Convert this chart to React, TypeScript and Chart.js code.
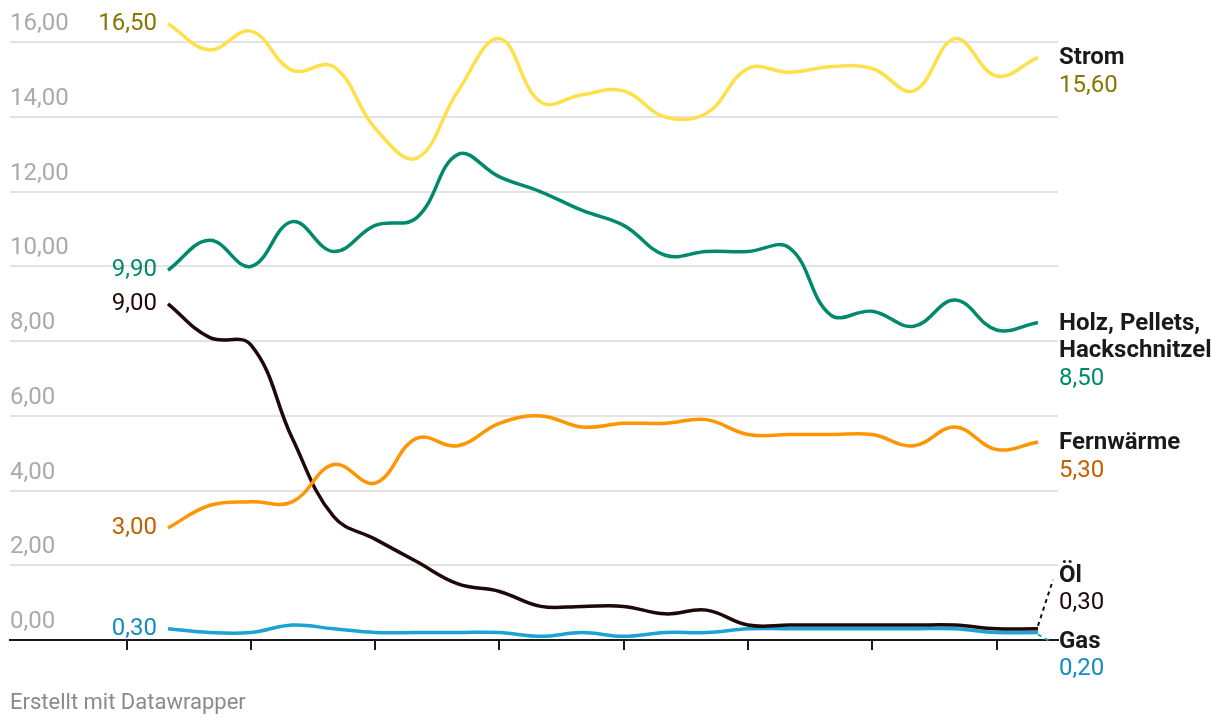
import { useEffect, useRef } from 'react';
import { Chart, registerables } from 'chart.js';

Chart.register(...registerables);

// x positions of the data points (periods, evenly spaced)
const periods = [0, 1, 2, 3, 4, 5, 6, 7, 8, 9, 10, 11, 12, 13, 14, 15, 16, 17, 18, 19, 20, 21];
// positions of the x-axis tick marks
const xTickPositions = [-1, 2, 5, 8, 11, 14, 17, 20];
// y-axis tick values
const yTickValues = [0, 2, 4, 6, 8, 10, 12, 14, 16];

const strom = [16.5, 15.8, 16.3, 15.25, 15.35, 13.7, 12.9, 14.7, 16.1, 14.4, 14.6, 14.7, 14.0, 14.1, 15.3, 15.2, 15.35, 15.3, 14.7, 16.1, 15.1, 15.6];
const holz = [9.9, 10.7, 10.0, 11.2, 10.4, 11.1, 11.3, 13.0, 12.4, 12.0, 11.5, 11.1, 10.3, 10.4, 10.4, 10.5, 8.7, 8.8, 8.4, 9.1, 8.3, 8.5];
const fernwaerme = [3.0, 3.6, 3.7, 3.7, 4.7, 4.2, 5.4, 5.2, 5.8, 6.0, 5.7, 5.8, 5.8, 5.9, 5.5, 5.5, 5.5, 5.5, 5.2, 5.7, 5.1, 5.3];
const oel = [9.0, 8.1, 7.9, 5.4, 3.3, 2.7, 2.1, 1.5, 1.3, 0.9, 0.9, 0.9, 0.7, 0.8, 0.4, 0.4, 0.4, 0.4, 0.4, 0.4, 0.3, 0.3];
const gas = [0.3, 0.2, 0.2, 0.4, 0.3, 0.2, 0.2, 0.2, 0.2, 0.1, 0.2, 0.1, 0.2, 0.2, 0.3, 0.3, 0.3, 0.3, 0.3, 0.3, 0.2, 0.2];

const seriesNames = [['Strom'], ['Holz, Pellets,', 'Hackschnitzel'], ['Fernwärme'], ['Öl'], ['Gas']];
const seriesValues = [strom, holz, fernwaerme, oel, gas];
const lineColors = ['#FFE04B', '#00896D', '#FF9500', '#1E0808', '#1BA3D3'];
const labelColors = ['#877600', '#00896D', '#C26000', '#1E0808', '#168BBE'];
// vertical shift of the end label relative to the line end (to avoid overlaps)
const endLabelShift = [0, 0, 0, -54, 8];

const footerText = 'Erstellt mit Datawrapper';
const FONT = 'Roboto, "Noto Sans", sans-serif';

const fmt = (v: number) => v.toFixed(2).replace('.', ',');

const labelPlugin = {
  id: 'dwLabels',
  afterDraw(chart: any) {
    const ctx = chart.ctx;
    const xs = chart.scales.x;
    const ys = chart.scales.y;
    ctx.save();
    // y tick labels above grid lines
    ctx.font = `24px ${FONT}`;
    ctx.fillStyle = '#AAAAAA';
    ctx.textAlign = 'left';
    ctx.textBaseline = 'middle';
    yTickValues.forEach((v) => {
      ctx.fillText(fmt(v), chart.chartArea.left, ys.getPixelForValue(v) - 18);
    });

    seriesValues.forEach((vals, i) => {
      const first = vals[0];
      const last = vals[vals.length - 1];
      const x0 = xs.getPixelForValue(periods[0]);
      const y0 = ys.getPixelForValue(first);
      const x1 = xs.getPixelForValue(periods[periods.length - 1]);
      const y1 = ys.getPixelForValue(last);

      // start label
      ctx.font = `24px ${FONT}`;
      ctx.fillStyle = labelColors[i];
      ctx.textAlign = 'right';
      ctx.textBaseline = 'middle';
      ctx.fillText(fmt(first), x0 - 11, y0);

      // end label
      const lx = chart.chartArea.right + 1;
      const ly = y1 + endLabelShift[i] + 1;
      if (endLabelShift[i] !== 0) {
        ctx.save();
        ctx.strokeStyle = lineColors[i];
        ctx.lineWidth = 2;
        ctx.setLineDash([4, 4]);
        ctx.beginPath();
        ctx.moveTo(x1, y1 - (endLabelShift[i] < 0 ? 3 : -2));
        if (endLabelShift[i] < 0) ctx.lineTo(lx - 6, ly + 4);
        else ctx.lineTo(lx - 10, ly - 1);
        ctx.stroke();
        ctx.restore();
      }
      ctx.textAlign = 'left';
      ctx.font = `bold 24px ${FONT}`;
      ctx.fillStyle = '#1A1A1A';
      const names = seriesNames[i];
      names.forEach((n, k) => {
        ctx.fillText(n, lx, ly + k * 27.5);
      });
      ctx.font = `24px ${FONT}`;
      ctx.fillStyle = labelColors[i];
      ctx.fillText(fmt(last), lx, ly + names.length * 27.5);
    });

    // footer
    ctx.font = `22px ${FONT}`;
    ctx.fillStyle = '#8A8A8A';
    ctx.textAlign = 'left';
    ctx.textBaseline = 'middle';
    ctx.fillText(footerText, 10, 703);
    ctx.restore();
  },
};

export default function App() {
  const ref = useRef<HTMLCanvasElement>(null);
  useEffect(() => {
    if (!ref.current) return;
    const chart = new Chart(ref.current, {
      type: 'line',
      data: {
        datasets: seriesValues.map((vals, i) => ({
          label: seriesNames[i].join(' '),
          data: vals.map((v, k) => ({ x: periods[k], y: v })),
          borderColor: lineColors[i],
          backgroundColor: lineColors[i],
          borderWidth: 3.5,
          pointRadius: 0,
          tension: 0.4,
          fill: false,
        })),
      },
      options: {
        responsive: false,
        animation: false,
        devicePixelRatio: 1,
        layout: { padding: { left: 10, right: 162, top: 5, bottom: 76 } },
        plugins: { legend: { display: false }, tooltip: { enabled: false } },
        scales: {
          x: {
            type: 'linear',
            min: -3.814,
            max: 21.483,
            afterBuildTicks: (axis: any) => {
              axis.ticks = xTickPositions.map((v) => ({ value: v }));
            },
            ticks: { display: false },
            grid: {
              display: true,
              drawOnChartArea: false,
              drawTicks: true,
              tickLength: 10,
              color: '#1A1A1A',
              lineWidth: 2,
            },
            border: { display: true, color: '#1A1A1A', width: 2 },
          },
          y: {
            type: 'linear',
            min: 0,
            max: 17,
            afterBuildTicks: (axis: any) => {
              axis.ticks = yTickValues.map((v) => ({ value: v }));
            },
            ticks: { display: false },
            grid: { color: '#E3E3E3', lineWidth: 2, drawTicks: false },
            border: { display: false },
          },
        },
      },
      plugins: [labelPlugin],
    });
    return () => chart.destroy();
  }, []);
  return (
    <div style={{ position: 'absolute', left: 0, top: 0, width: 1220, height: 726, background: '#fff' }}>
      <canvas ref={ref} width={1220} height={726} style={{ display: 'block' }} />
    </div>
  );
}
